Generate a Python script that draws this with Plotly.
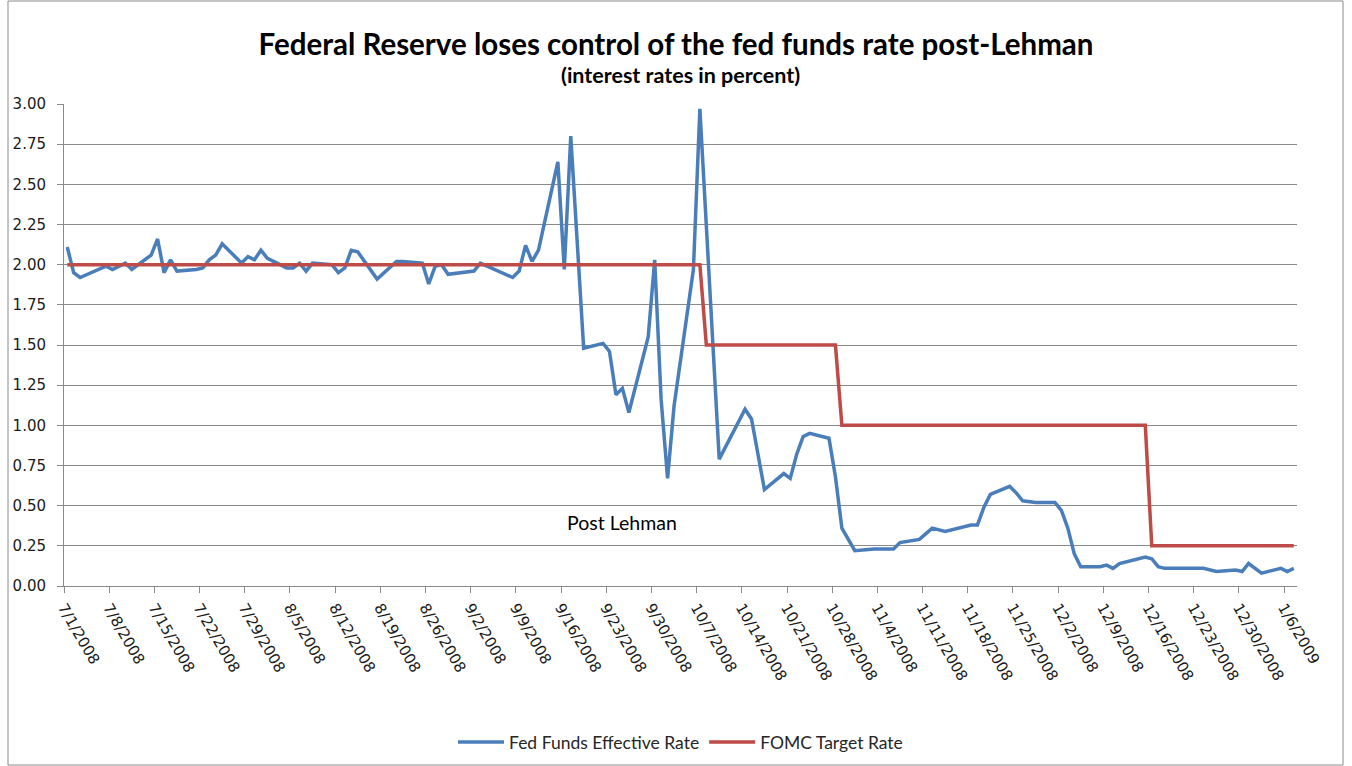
import pandas as pd
import plotly.graph_objects as go

# ---- data ----
eff_dates = [
    "2008-07-01", "2008-07-02", "2008-07-03", "2008-07-07", "2008-07-08", "2008-07-10", "2008-07-11",
    "2008-07-14", "2008-07-15", "2008-07-16", "2008-07-17", "2008-07-18", "2008-07-21", "2008-07-22",
    "2008-07-23", "2008-07-24", "2008-07-25", "2008-07-28", "2008-07-29", "2008-07-30", "2008-07-31",
    "2008-08-01", "2008-08-04", "2008-08-05", "2008-08-06", "2008-08-07", "2008-08-08", "2008-08-11",
    "2008-08-12", "2008-08-13", "2008-08-14", "2008-08-15", "2008-08-18", "2008-08-21", "2008-08-22",
    "2008-08-25", "2008-08-26", "2008-08-27", "2008-08-28", "2008-08-29", "2008-09-02", "2008-09-03",
    "2008-09-08", "2008-09-09", "2008-09-10", "2008-09-11", "2008-09-12", "2008-09-15", "2008-09-16",
    "2008-09-17", "2008-09-19", "2008-09-22", "2008-09-23", "2008-09-24", "2008-09-25", "2008-09-26",
    "2008-09-29", "2008-09-30", "2008-10-01", "2008-10-02", "2008-10-03", "2008-10-06", "2008-10-07",
    "2008-10-08", "2008-10-10", "2008-10-14", "2008-10-15", "2008-10-17", "2008-10-20", "2008-10-21",
    "2008-10-22", "2008-10-23", "2008-10-24", "2008-10-27", "2008-10-28", "2008-10-29", "2008-10-30",
    "2008-10-31", "2008-11-03", "2008-11-06", "2008-11-07", "2008-11-10", "2008-11-12", "2008-11-13",
    "2008-11-14", "2008-11-18", "2008-11-19", "2008-11-20", "2008-11-21", "2008-11-24", "2008-11-25",
    "2008-11-26", "2008-11-28", "2008-12-01", "2008-12-02", "2008-12-03", "2008-12-04", "2008-12-05",
    "2008-12-08", "2008-12-09", "2008-12-10", "2008-12-11", "2008-12-15", "2008-12-16", "2008-12-17",
    "2008-12-18", "2008-12-24", "2008-12-26", "2008-12-29", "2008-12-30", "2008-12-31", "2009-01-02",
    "2009-01-05", "2009-01-06", "2009-01-07",
]
eff_rate = [
    2.11, 1.95, 1.92, 1.99, 1.97, 2.01, 1.97,
    2.06, 2.16, 1.95, 2.03, 1.96, 1.97, 1.98,
    2.03, 2.06, 2.13, 2.01, 2.05, 2.03, 2.09,
    2.04, 1.98, 1.98, 2.01, 1.96, 2.01, 2.00,
    1.95, 1.98, 2.09, 2.08, 1.91, 2.02, 2.02,
    2.01, 1.88, 1.99, 2.00, 1.94, 1.96, 2.01,
    1.92, 1.96, 2.12, 2.02, 2.09, 2.64, 1.97,
    2.80, 1.48, 1.51, 1.46, 1.19, 1.23, 1.08,
    1.55, 2.03, 1.16, 0.67, 1.12, 1.97, 2.97,
    2.26, 0.79, 1.10, 1.04, 0.60, 0.70, 0.67,
    0.82, 0.93, 0.95, 0.92, 0.68, 0.36, 0.29,
    0.22, 0.23, 0.23, 0.27, 0.29, 0.36, 0.35,
    0.34, 0.38, 0.38, 0.49, 0.57, 0.62, 0.58,
    0.53, 0.52, 0.52, 0.47, 0.36, 0.20, 0.12,
    0.12, 0.13, 0.11, 0.14, 0.18, 0.17, 0.12,
    0.11, 0.11, 0.09, 0.10, 0.09, 0.14, 0.08,
    0.11, 0.09, 0.11,
]

target_dates = ["2008-07-01", "2008-10-07", "2008-10-08", "2008-10-28", "2008-10-29",
                "2008-12-15", "2008-12-16", "2009-01-07"]
target_rate = [2.00, 2.00, 1.50, 1.50, 1.00, 1.00, 0.25, 0.25]

tick_labels = ["7/1/2008", "7/8/2008", "7/15/2008", "7/22/2008", "7/29/2008", "8/5/2008",
               "8/12/2008", "8/19/2008", "8/26/2008", "9/2/2008", "9/9/2008", "9/16/2008",
               "9/23/2008", "9/30/2008", "10/7/2008", "10/14/2008", "10/21/2008", "10/28/2008",
               "11/4/2008", "11/11/2008", "11/18/2008", "11/25/2008", "12/2/2008", "12/9/2008",
               "12/16/2008", "12/23/2008", "12/30/2008", "1/6/2009"]

y_ticks = [0.0, 0.25, 0.5, 0.75, 1.0, 1.25, 1.5, 1.75, 2.0, 2.25, 2.5, 2.75, 3.0]

# ---- figure ----
half_day = pd.Timedelta(hours=12)  # Excel date axis plots each day in the middle of its slot
x_eff = pd.to_datetime(eff_dates) + half_day
x_tgt = pd.to_datetime(target_dates) + half_day
tick_vals = pd.to_datetime(tick_labels, format="%m/%d/%Y")

BLUE = "#4a7ebb"
RED = "#be4b48"
GRID = "#8a8a8a"

fig = go.Figure()
fig.add_trace(go.Scatter(x=x_eff, y=eff_rate, mode="lines", name="Fed Funds Effective Rate",
                         line=dict(color=BLUE, width=3.5)))
fig.add_trace(go.Scatter(x=x_tgt, y=target_rate, mode="lines", name="FOMC Target Rate",
                         line=dict(color=RED, width=3.5)))

L, R, T, B = 64, 55, 104, 180
W, H = 1352, 766
pw, ph = W - L - R, H - T - B
bottom = T + ph

fig.update_layout(
    width=W, height=H,
    margin=dict(l=L, r=R, t=T, b=B, autoexpand=False),
    paper_bgcolor="white", plot_bgcolor="white",
    font=dict(family="DejaVu Sans", color="#000000"),
    title=dict(text="<b>Federal Reserve loses control of the fed funds rate post-Lehman</b>",
               x=0.5, xanchor="center", y=1 - 45 / H, yanchor="middle",
               font=dict(family="Lato", size=29.5, color="#000000")),
    showlegend=True,
    legend=dict(orientation="h", x=0.5, xanchor="center", y=(bottom - 742) / ph,
                yanchor="middle", font=dict(family="Lato", size=17.5, color="#262626"),
                traceorder="normal", itemwidth=46),
    xaxis=dict(
        type="date", automargin=False,
        range=[pd.Timestamp("2008-07-01"), pd.Timestamp("2009-01-08")],
        tickvals=tick_vals, ticktext=tick_labels, tickangle=60,
        ticks="outside", ticklen=6, tickcolor=GRID,
        showline=True, linecolor=GRID, linewidth=1,
        showgrid=False, zeroline=False,
        tickfont=dict(family="DejaVu Sans", size=15, color="#1a1a1a"),
    ),
    yaxis=dict(
        automargin=False,
        range=[0, 3.0], tickvals=y_ticks, tickformat=".2f",
        ticks="outside", ticklen=6, tickcolor=GRID, ticklabelstandoff=8,
        showline=True, linecolor=GRID, linewidth=1,
        showgrid=True, gridcolor=GRID, gridwidth=1, zeroline=False,
        tickfont=dict(family="DejaVu Sans", size=15, color="#1a1a1a"),
    ),
)

fig.add_annotation(text="<b>(interest rates in percent)</b>", xref="paper", yref="paper",
                   x=0.5, y=(bottom - 75) / ph,
                   xanchor="center", yanchor="middle", showarrow=False,
                   font=dict(family="Lato", size=21.5, color="#000000"))

fig.add_annotation(text="Post Lehman", x=pd.Timestamp("2008-09-25 12:00"), y=0.395,
                   xref="x", yref="y", showarrow=False, xanchor="center", yanchor="middle",
                   font=dict(family="Lato", size=19.5, color="#000000"))

# chart-area border
fig.add_shape(type="rect", xref="paper", yref="paper",
              x0=(8 - L) / pw, x1=(1343 - L) / pw,
              y0=(bottom - 765) / ph, y1=(bottom - 1) / ph,
              line=dict(color="#8a8a8a", width=1), fillcolor="rgba(0,0,0,0)", layer="below")

fig.write_html("out.html")
